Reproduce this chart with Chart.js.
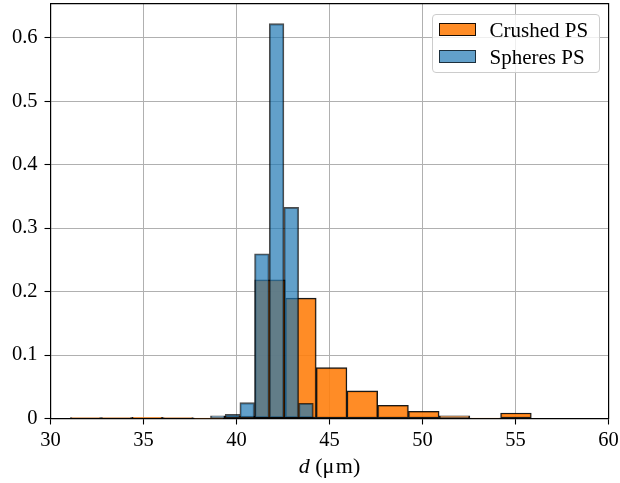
<!DOCTYPE html>
<html>
<head>
<meta charset="utf-8">
<script src="https://cdn.jsdelivr.net/npm/chart.js@4/dist/chart.umd.min.js"></script>
<style>
  body { margin: 0; background: #fff; }
  #wrap { position: relative; width: 620px; height: 483px; font-family: "Liberation Serif", "Times New Roman", serif; }
  #legend {
    position: absolute; left: 431.5px; top: 13.5px; width: 168px; height: 59px;
    box-sizing: border-box; border: 1px solid #cccccc; border-radius: 4px;
    background: rgba(255, 255, 255, 0.8);
  }
  .swatch { position: absolute; left: 6px; width: 37px; height: 12.5px; box-sizing: border-box; border-style: solid; border-width: 1.4px; }
  .ltext { position: absolute; left: 57px; font-size: 21px; line-height: 21px; color: #000; white-space: nowrap; }
  #xlabel { position: absolute; left: 0; width: 659px; top: 455px; text-align: center; font-size: 22px; line-height: 21px; color: #000; }
  #xlabel .mu { margin-right: 1.5px; }
</style>
</head>
<body>
<div id="wrap">
  <canvas id="histChart" width="620" height="483"></canvas>
  <div id="legend">
    <div class="swatch" style="top:8.5px;background:rgba(255,127,14,0.9);border-color:rgba(0,0,0,0.9)"></div>
    <div class="ltext" style="top:5.6px">Crushed PS</div>
    <div class="swatch" style="top:35.5px;background:rgba(31,119,180,0.7);border-color:rgba(0,0,0,0.7)"></div>
    <div class="ltext" style="top:32.2px">Spheres PS</div>
  </div>
  <div id="xlabel"><i>d</i>&nbsp;(<span class="mu">μ</span>m)</div>
</div>
<script>
// bin edges and densities
const crushedEdges = [31.07, 32.722, 34.374, 36.026, 37.678, 39.33, 40.982, 42.634, 44.286, 45.938, 47.59, 49.242, 50.894, 52.546, 54.198, 55.85];
const crushedDensity = [0.0015, 0.0015, 0.002, 0.0015, 0.0003, 0.004, 0.2186, 0.1897, 0.0802, 0.0434, 0.0208, 0.0114, 0.0044, 0.0008, 0.0087];

const spheresEdges = [38.6, 39.39, 40.18, 40.97, 41.76, 42.55, 43.34, 44.13];
const spheresDensity = [0.0044, 0.0066, 0.0249, 0.2596, 0.622, 0.3327, 0.024];

const xTicks = [30, 35, 40, 45, 50, 55, 60];
const yTicks = [0, 0.1, 0.2, 0.3, 0.4, 0.5, 0.6];

const seriesNames = ["Crushed PS", "Spheres PS"];

function toBars(edges, values) {
  return values.map((v, i) => ({ x: (edges[i] + edges[i + 1]) / 2, y: v }));
}

Chart.defaults.font.family = "'Liberation Serif', 'Times New Roman', serif";
Chart.defaults.font.size = 20.5;
Chart.defaults.color = "#000";

const gridColor = "#b0b0b0";
const setTicks = list => scale => { scale.ticks = list.map(v => ({ value: v })); };
// fixed box sizes, no extra label overflow padding
const fixSize = (w, h) => s => {
  if (w !== null) s.width = w;
  if (h !== null) s.height = h;
  s.paddingTop = 0; s.paddingBottom = 0; s.paddingLeft = 0; s.paddingRight = 0;
};

new Chart(document.getElementById("histChart").getContext("2d"), {
  type: "bar",
  data: {
    datasets: [
      {
        label: seriesNames[0],
        data: toBars(crushedEdges, crushedDensity),
        xAxisID: "x2",
        order: 2,
        backgroundColor: "rgba(255,127,14,0.9)",
        borderColor: "rgba(0,0,0,0.9)",
        borderWidth: 1.4,
        borderSkipped: false,
        barPercentage: 1,
        categoryPercentage: 1,
        grouped: false
      },
      {
        label: seriesNames[1],
        data: toBars(spheresEdges, spheresDensity),
        xAxisID: "x",
        order: 1,
        backgroundColor: "rgba(31,119,180,0.7)",
        borderColor: "rgba(0,0,0,0.7)",
        borderWidth: 1.4,
        borderSkipped: false,
        barPercentage: 1,
        categoryPercentage: 1,
        grouped: false
      }
    ]
  },
  options: {
    responsive: false,
    animation: false,
    devicePixelRatio: 1,
    layout: { padding: { left: 0, right: 11.5, top: 4, bottom: 0 } },
    plugins: { legend: { display: false }, tooltip: { enabled: false } },
    scales: {
      x: {
        type: "linear",
        position: "bottom",
        min: 30, max: 60,
        offset: false,
        z: 1,
        afterBuildTicks: setTicks(xTicks),
        afterFit: fixSize(null, 64.5),
        grid: { color: gridColor, lineWidth: 1, offset: false, tickLength: 6, tickColor: "#000", tickWidth: 1.1 },
        border: { display: true, color: "#000", width: 1.2 },
        ticks: { padding: 4, maxRotation: 0, autoSkip: false }
      },
      x2: {
        type: "linear",
        position: "top",
        min: 30, max: 60,
        offset: false,
        z: 1,
        afterBuildTicks: setTicks(xTicks),
        afterFit: fixSize(null, 0),
        grid: { display: false, offset: false },
        border: { display: true, color: "#000", width: 1.2 },
        ticks: { display: false }
      },
      y: {
        type: "linear",
        position: "left",
        min: 0, max: 0.653,
        z: 1,
        afterBuildTicks: setTicks(yTicks),
        afterFit: fixSize(50.5, null),
        grid: { color: gridColor, lineWidth: 1, tickLength: 6, tickColor: "#000", tickWidth: 1.1 },
        border: { display: true, color: "#000", width: 1.2 },
        ticks: { padding: 7 }
      },
      y2: {
        type: "linear",
        position: "right",
        min: 0, max: 0.653,
        z: 1,
        afterFit: fixSize(0, null),
        grid: { display: false },
        border: { display: true, color: "#000", width: 1.2 },
        ticks: { display: false }
      }
    }
  }
});
</script>
</body>
</html>
